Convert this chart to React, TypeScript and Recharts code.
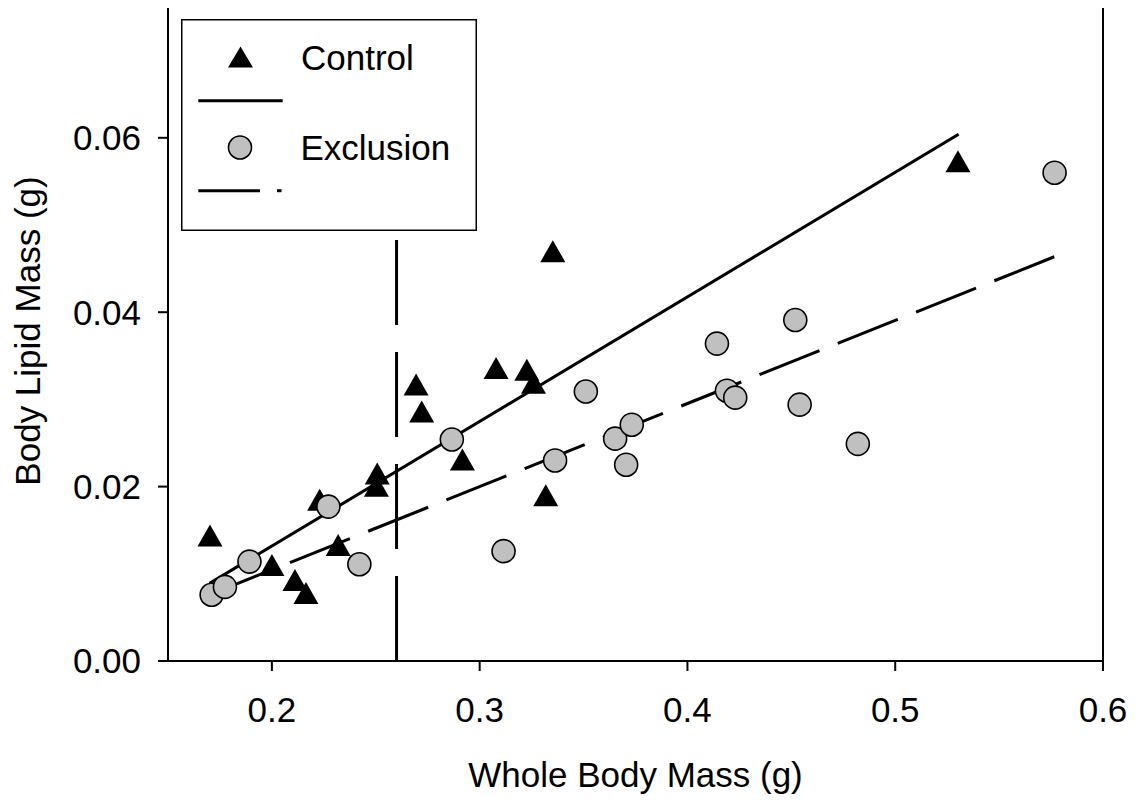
import React from 'react';
import { ScatterChart, Scatter, XAxis, YAxis, ReferenceArea, Legend } from 'recharts';

const FONT = '"Liberation Sans", Arial, Helvetica, sans-serif';

// Control group (triangles)
const controlX = [0.1702, 0.2, 0.2111, 0.2164, 0.223, 0.2319, 0.2503, 0.2507, 0.2694, 0.2721, 0.2917, 0.3079, 0.3227, 0.3259, 0.3318, 0.3352, 0.5302];
const controlY = [0.0144, 0.011, 0.0093, 0.0078, 0.0185, 0.0133, 0.0201, 0.0215, 0.0317, 0.0286, 0.0231, 0.0336, 0.0334, 0.0319, 0.019, 0.047, 0.0573];

// Exclusion group (circles)
const exclusionX = [0.171, 0.1774, 0.1892, 0.2272, 0.2421, 0.2866, 0.3115, 0.3363, 0.3511, 0.3652, 0.3705, 0.3732, 0.4142, 0.419, 0.423, 0.4519, 0.454, 0.482, 0.5767];
const exclusionY = [0.0076, 0.0085, 0.0114, 0.0177, 0.0111, 0.0254, 0.0126, 0.023, 0.0309, 0.0255, 0.0225, 0.0271, 0.0364, 0.031, 0.0302, 0.0391, 0.0294, 0.0249, 0.056];

// Regression lines (endpoints)
const controlFitX = [0.17, 0.5305];
const controlFitY = [0.0089, 0.0604];
const exclusionFitX = [0.171, 0.577];
const exclusionFitY = [0.0077, 0.0464];

// Vertical cutoff line
const cutoffX = [0.26, 0.26];
const cutoffY = [0, 0.0483];

const xTicks = [0.2, 0.3, 0.4, 0.5, 0.6];
const yTicks = [0, 0.02, 0.04, 0.06];
const xDomain = [0.15, 0.6];
const yDomain = [0, 0.075];

const zip = (xs: number[], ys: number[]) => xs.map((x, i) => ({ x, y: ys[i] }));

const controlData = zip(controlX, controlY);
const exclusionData = zip(exclusionX, exclusionY);
const controlFit = zip(controlFitX, controlFitY);
const exclusionFit = zip(exclusionFitX, exclusionFitY);
const cutoff = zip(cutoffX, cutoffY);

const Triangle = (props: any) => {
  const { cx, cy } = props;
  if (cx == null || cy == null) return <g />;
  return (
    <polygon
      points={`${cx},${cy - 11} ${cx - 12.5},${cy + 11} ${cx + 12.5},${cy + 11}`}
      fill="#000"
    />
  );
};

const Dot = (props: any) => {
  const { cx, cy } = props;
  if (cx == null || cy == null) return <g />;
  return <circle cx={cx} cy={cy} r={11.5} fill="#c0c0c0" stroke="#000" strokeWidth={1.6} />;
};

const NoShape = () => <g />;

const renderLegend = () => (
  <svg width={296} height={212} style={{ display: 'block' }}>
    <rect x={0.75} y={0.75} width={294.5} height={210.5} fill="#fff" stroke="#000" strokeWidth={1.5} />
    <polygon points="59.5,27.5 47,48.5 72,48.5" fill="#000" />
    <text x={120} y={51} fontSize={35} fontFamily={FONT} fill="#000">Control</text>
    <line x1={17.3} x2={101.7} y1={81.7} y2={81.7} stroke="#000" strokeWidth={3} />
    <circle cx={59} cy={128.5} r={11.5} fill="#c0c0c0" stroke="#000" strokeWidth={1.6} />
    <text x={119.5} y={140.5} fontSize={35} fontFamily={FONT} fill="#000">Exclusion</text>
    <line x1={17.3} x2={79} y1={171.7} y2={171.7} stroke="#000" strokeWidth={3} />
    <line x1={96} x2={100.5} y1={171.7} y2={171.7} stroke="#000" strokeWidth={3} />
  </svg>
);

const renderXLabel = (p: any) => {
  const vb = p.viewBox || {};
  return (
    <text x={vb.x + vb.width / 2} y={vb.y + 126} textAnchor="middle" fontSize={35} fontFamily={FONT} fill="#000">
      Whole Body Mass (g)
    </text>
  );
};

const renderYLabel = (p: any) => {
  const vb = p.viewBox || {};
  const x = 39.5;
  const y = vb.y + vb.height / 2 - 3;
  return (
    <text x={x} y={y} transform={`rotate(-90, ${x}, ${y})`} textAnchor="middle" fontSize={35} fontFamily={FONT} fill="#000">
      Body Lipid Mass (g)
    </text>
  );
};

export default function App() {
  return (
    <div style={{ margin: -8, width: 1144, height: 802, background: '#fff' }}>
      <ScatterChart width={1144} height={802} margin={{ top: 7, right: 41, bottom: 0, left: 0 }}>
        <XAxis
          type="number"
          dataKey="x"
          domain={xDomain}
          ticks={xTicks}
          allowDataOverflow
          height={141}
          tickSize={10}
          tickMargin={26}
          tickFormatter={(v: number) => v.toFixed(1)}
          stroke="#000"
          strokeWidth={2}
          tick={{ fill: '#000', fontSize: 35, fontFamily: FONT }}
          label={renderXLabel}
        />
        <YAxis
          type="number"
          dataKey="y"
          domain={yDomain}
          ticks={yTicks}
          allowDataOverflow
          width={168}
          tickSize={10}
          tickMargin={17}
          tickFormatter={(v: number) => v.toFixed(2)}
          stroke="#000"
          strokeWidth={2}
          tick={{ fill: '#000', fontSize: 35, fontFamily: FONT }}
          label={renderYLabel}
        />
        <ReferenceArea x1={0.15} x2={0.6} y1={0} y2={0.075} fill="none" stroke="#000" strokeWidth={2} />
        <Scatter
          data={cutoff}
          line={{ stroke: '#000', strokeWidth: 3, strokeDasharray: '85 27' }}
          shape={NoShape}
          isAnimationActive={false}
        />
        <Scatter
          data={controlFit}
          line={{ stroke: '#000', strokeWidth: 3 }}
          shape={NoShape}
          isAnimationActive={false}
        />
        <Scatter
          data={exclusionFit}
          line={{ stroke: '#000', strokeWidth: 3, strokeDasharray: '64.6 19.7' }}
          shape={NoShape}
          isAnimationActive={false}
        />
        <Scatter data={controlData} shape={Triangle} isAnimationActive={false} />
        <Scatter data={exclusionData} shape={Dot} isAnimationActive={false} />
        <Legend
          content={renderLegend}
          layout="horizontal"
          verticalAlign="middle"
          align="center"
          wrapperStyle={{ position: 'absolute', left: 181, top: 19, width: 296, height: 212 }}
        />
      </ScatterChart>
    </div>
  );
}
